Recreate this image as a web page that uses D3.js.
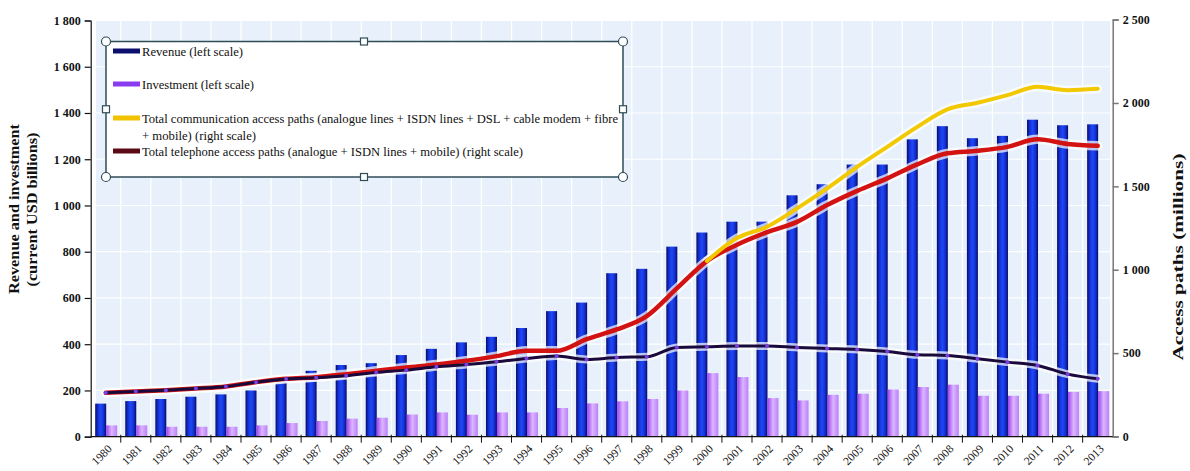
<!DOCTYPE html>
<html>
<head>
<meta charset="utf-8">
<script src="https://cdn.jsdelivr.net/npm/d3@7"></script>
<style>
  body { margin: 0; background: #fff; }
  svg text { font-family: "Liberation Serif", "DejaVu Serif", serif; fill: #111; }
</style>
</head>
<body>
<script>
// Screen dimensions.
const WIDTH = 1190;
const HEIGHT = 471;

// Data.
const years = d3.range(1980, 2014).map(String);
const revenue = [143, 154, 163, 173, 183, 200, 240, 285, 310, 318, 353, 380, 408, 432, 470, 543,
  580, 707, 726, 822, 883, 930, 930, 1044, 1092, 1177, 1177, 1286, 1343, 1291, 1301, 1371, 1347, 1351];
const investment = [49, 49, 43, 43, 43, 49, 59, 68, 78, 82, 96, 105, 95, 105, 105, 124,
  144, 153, 163, 200, 275, 258, 167, 157, 181, 186, 204, 215, 225, 177, 177, 186, 194, 197];
const telephonePaths = [262, 270, 278, 288, 300, 326, 346, 356, 374, 394, 414, 432, 454, 482, 514, 514,
  584, 642, 722, 888, 1052, 1150, 1225, 1287, 1388, 1473, 1548, 1632, 1698, 1713, 1737, 1782, 1754, 1743];
const communicationPaths = [null, null, null, null, null, null, null, null, null, null, null, null, null, null, null, null,
  null, null, null, null, 1052, 1190, 1258, 1368, 1488, 1617, 1737, 1857, 1962, 2001, 2047, 2097, 2077, 2085];
const analoguePaths = [262, 270, 278, 288, 300, 325, 345, 352, 364, 384, 398, 418, 432, 448, 468, 482,
  462, 474, 478, 534, 538, 542, 542, 534, 528, 522, 510, 490, 486, 466, 446, 426, 374, 346];
const leftTicks = [0, 200, 400, 600, 800, 1000, 1200, 1400, 1600, 1800];
const rightTicks = [0, 500, 1000, 1500, 2000, 2500];

const legendItems = [
  { label: ["Revenue (left scale)"], color: "#0c0f6e", widths: [101] },
  { label: ["Investment (left scale)"], color: "#8a3cf0", widths: [112] },
  { label: ["Total communication access paths (analogue lines + ISDN lines + DSL + cable modem + fibre",
            "+ mobile) (right scale)"], color: "#f2c200", widths: [476, 114] },
  { label: ["Total telephone access paths (analogue + ISDN lines + mobile) (right scale)"], color: "#5c0a16", widths: [381] }
];

const svg = d3.select("body").append("svg").attr("width", WIDTH).attr("height", HEIGHT);

// Scales
const x = d3.scaleBand().domain(years).range([90.7, 1112.7]);
const yL = d3.scaleLinear().domain([0, 1800]).range([436.7, 20.5]);
const yR = d3.scaleLinear().domain([0, 2500]).range([436.5, 19.6]);
const fmt = v => d3.format(",")(v).replace(/,/g, " ");

// Gradients for the bars
const defs = svg.append("defs");
function hGrad(id, stops) {
  const g = defs.append("linearGradient").attr("id", id).attr("x1", 0).attr("x2", 1).attr("y1", 0).attr("y2", 0);
  stops.forEach(s => g.append("stop").attr("offset", s[0]).attr("stop-color", s[1]));
}
hGrad("revGrad", [[0, "#080a68"], [0.25, "#1332d4"], [0.5, "#2048f6"], [0.75, "#1332d4"], [1, "#080a68"]]);
hGrad("invGrad", [[0, "#9c42f0"], [0.5, "#dcb6ff"], [1, "#bb80f8"]]);

// Plot background and grid
svg.append("rect").attr("x", 96).attr("y", 21).attr("width", 1014).attr("height", 415).attr("fill", "#e8f1fb");
svg.append("g").selectAll("line").data(years.slice(1)).enter().append("line")
  .attr("x1", d => x(d)).attr("x2", d => x(d)).attr("y1", 21).attr("y2", 436)
  .attr("stroke", "#fff").attr("stroke-width", 1.2);
svg.append("g").selectAll("line").data(leftTicks.slice(1)).enter().append("line")
  .attr("x1", 96).attr("x2", 1110).attr("y1", d => yL(d)).attr("y2", d => yL(d))
  .attr("stroke", "#fff").attr("stroke-width", 1.2);

// Bars
svg.append("g").selectAll("rect").data(years).enter().append("rect")
  .attr("x", d => x(d) + 4.5).attr("width", 11)
  .attr("y", (d, i) => yL(revenue[i])).attr("height", (d, i) => yL(0) - yL(revenue[i]))
  .attr("fill", "url(#revGrad)");
svg.append("g").selectAll("rect").data(years).enter().append("rect")
  .attr("x", d => x(d) + 15.5).attr("width", 11)
  .attr("y", (d, i) => yL(investment[i])).attr("height", (d, i) => yL(0) - yL(investment[i]))
  .attr("fill", "url(#invGrad)");

// Lines (right scale)
const cx = d => x(d) + x.bandwidth() / 2;
function lineOf(values) {
  return d3.line().defined((d, i) => values[i] != null)
    .x(d => cx(d)).y((d, i) => yR(values[i])).curve(d3.curveMonotoneX)(years);
}
const lines = [
  { values: telephonePaths, color: "#d31212", width: 4.5 },
  { values: analoguePaths, color: "#1a0a3c", width: 3 },
  { values: communicationPaths, color: "#f2c800", width: 4 }
];
lines.forEach(l => {
  svg.append("path").attr("d", lineOf(l.values)).attr("fill", "none")
    .attr("stroke", "#fff").attr("stroke-opacity", 0.7).attr("stroke-width", l.width + 5)
    .attr("stroke-linejoin", "round").attr("stroke-linecap", "round");
});
lines.forEach(l => {
  svg.append("path").attr("d", lineOf(l.values)).attr("fill", "none")
    .attr("stroke", l.color).attr("stroke-width", l.width)
    .attr("stroke-linejoin", "round").attr("stroke-linecap", "round");
});
// markers on the analogue line
svg.append("g").selectAll("circle").data(years).enter().append("circle")
  .attr("cx", d => cx(d)).attr("cy", (d, i) => yR(analoguePaths[i])).attr("r", 2)
  .attr("fill", "#7b3ee0");

// Axes
const axL = svg.append("g").attr("transform", "translate(90.7,0)")
  .call(d3.axisLeft(yL).tickValues(leftTicks).tickSize(6).tickPadding(4).tickFormat(fmt));
axL.selectAll("text").style("font-size", "12px").style("font-weight", "bold").attr("fill", "#222");
axL.selectAll("line, path").attr("stroke", "#111").attr("stroke-width", 1.2);

const axR = svg.append("g").attr("transform", "translate(1112.7,0)")
  .call(d3.axisRight(yR).tickValues(rightTicks).tickSize(6).tickPadding(4).tickFormat(fmt));
axR.selectAll("text").style("font-size", "12px").style("font-weight", "bold").attr("fill", "#222");
axR.selectAll("line, path").attr("stroke", "#777").attr("stroke-width", 1.5);

// X axis
const axB = svg.append("g").attr("transform", "translate(0,436.7)");
axB.append("line").attr("x1", 90.7).attr("x2", 1112.7).attr("stroke", "#111").attr("stroke-width", 1.2);
axB.selectAll("line.tk").data(years.slice(1)).enter().append("line").attr("class", "tk")
  .attr("x1", d => x(d)).attr("x2", d => x(d)).attr("y1", -2).attr("y2", 6)
  .attr("stroke", "#111");
axB.selectAll("text").data(years).enter().append("text")
  .attr("transform", d => `translate(${cx(d) + 4},${10}) rotate(-45)`)
  .attr("text-anchor", "end").attr("dy", "0.35em")
  .style("font-size", "11.5px").text(d => d);

// Axis titles
const titles = [
  { text: "Revenue and investment", x: 19, y: 209, len: 170 },
  { text: "(current USD billions)", x: 37, y: 209.5, len: 154 },
  { text: "Access paths (millions)", x: 1183, y: 257, len: 207 }
];
titles.forEach(t => {
  svg.append("text").attr("transform", `translate(${t.x},${t.y}) rotate(-90)`)
    .attr("text-anchor", "middle").style("font-size", "14.5px").style("font-weight", "bold")
    .attr("textLength", t.len).attr("lengthAdjust", "spacingAndGlyphs")
    .text(t.text);
});

// Legend box (drawn like a selected text frame)
const lg = svg.append("g");
const bx0 = 106, bx1 = 623, by0 = 41.5, by1 = 177;
lg.append("rect").attr("x", bx0).attr("y", by0).attr("width", bx1 - bx0).attr("height", by1 - by0)
  .attr("fill", "#fff").attr("stroke", "#2f4c58").attr("stroke-width", 1.5);

const rowY = [51, 84, 118, 151];
legendItems.forEach((it, i) => {
  lg.append("line").attr("x1", 113).attr("x2", 140).attr("y1", rowY[i]).attr("y2", rowY[i])
    .attr("stroke", it.color).attr("stroke-width", 5);
  it.label.forEach((t, j) => {
    lg.append("text").attr("x", 142).attr("y", rowY[i] + 4.5 + j * 17)
      .attr("textLength", it.widths[j]).attr("lengthAdjust", "spacingAndGlyphs")
      .style("font-size", "12px").text(t);
  });
});

[[bx0, by0], [bx1, by0], [bx0, by1], [bx1, by1]].forEach(p => {
  lg.append("circle").attr("cx", p[0]).attr("cy", p[1]).attr("r", 4.5)
    .attr("fill", "#fff").attr("stroke", "#2f4c58").attr("stroke-width", 1.2);
});
[[(bx0 + bx1) / 2 - 0.5, by0], [(bx0 + bx1) / 2 - 0.5, by1], [bx0, (by0 + by1) / 2], [bx1, (by0 + by1) / 2]].forEach(p => {
  lg.append("rect").attr("x", p[0] - 3.5).attr("y", p[1] - 3.5).attr("width", 7).attr("height", 7)
    .attr("fill", "#fff").attr("stroke", "#2f4c58").attr("stroke-width", 1.2);
});
</script>
</body>
</html>
